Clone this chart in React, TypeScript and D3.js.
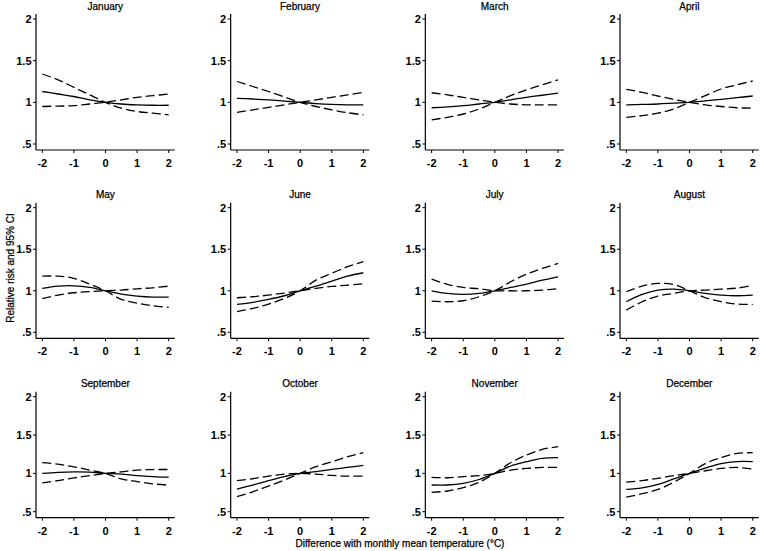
import React from "react";
import * as d3 from "d3";

const months = [
  "January", "February", "March", "April", "May", "June",
  "July", "August", "September", "October", "November", "December",
];

const tempDiff = [-2, -1.5, -1, -0.5, 0, 0.5, 1, 1.5, 2];

const xTicks = [-2, -1, 0, 1, 2];
const yTicks = [0.5, 1, 1.5, 2];
const yTickLabels = [".5", "1", "1.5", "2"];

// relative risk (solid line), by month
const relativeRisk: number[][] = [
  [1.13, 1.10, 1.07, 1.03, 1, 0.98, 0.97, 0.965, 0.965],
  [1.048, 1.04, 1.03, 1.015, 1, 0.985, 0.975, 0.97, 0.97],
  [0.935, 0.945, 0.96, 0.98, 1, 1.03, 1.06, 1.085, 1.11],
  [0.97, 0.975, 0.98, 0.99, 1, 1.018, 1.036, 1.056, 1.076],
  [1.028, 1.056, 1.06, 1.04, 1, 0.96, 0.936, 0.924, 0.924],
  [0.836, 0.86, 0.896, 0.94, 1, 1.056, 1.116, 1.176, 1.217],
  [1.0, 0.968, 0.956, 0.968, 1, 1.04, 1.08, 1.128, 1.168],
  [0.868, 0.956, 1.008, 1.02, 1, 0.968, 0.948, 0.94, 0.948],
  [1.0, 1.013, 1.02, 1.017, 1, 0.99, 0.97, 0.957, 0.95],
  [0.796, 0.848, 0.904, 0.957, 1, 1.022, 1.052, 1.078, 1.104],
  [0.848, 0.848, 0.87, 0.92, 1, 1.096, 1.152, 1.196, 1.204],
  [0.79, 0.81, 0.855, 0.927, 1, 1.068, 1.128, 1.154, 1.154],
];

// first 95% CI bound (dashed), by month
const ciBoundA: number[][] = [
  [1.34, 1.27, 1.18, 1.09, 1, 0.93, 0.89, 0.87, 0.85],
  [1.25, 1.19, 1.13, 1.065, 1, 0.95, 0.91, 0.875, 0.85],
  [1.115, 1.09, 1.06, 1.03, 1, 0.98, 0.97, 0.97, 0.97],
  [1.156, 1.12, 1.076, 1.035, 1, 0.97, 0.95, 0.935, 0.93],
  [1.176, 1.176, 1.15, 1.08, 1, 0.896, 0.85, 0.82, 0.8],
  [0.75, 0.787, 0.84, 0.908, 1, 1.128, 1.21, 1.29, 1.35],
  [1.14, 1.076, 1.04, 1.024, 1, 1.0, 1.0, 1.008, 1.024],
  [0.988, 1.056, 1.088, 1.076, 1, 0.916, 0.868, 0.84, 0.836],
  [1.14, 1.12, 1.085, 1.043, 1, 0.927, 0.893, 0.863, 0.846],
  [0.696, 0.76, 0.835, 0.913, 1, 1.087, 1.152, 1.217, 1.27],
  [0.752, 0.77, 0.813, 0.883, 1, 1.139, 1.239, 1.313, 1.348],
  [0.69, 0.735, 0.79, 0.885, 1, 1.128, 1.205, 1.26, 1.27],
];

// second 95% CI bound (dashed), by month
const ciBoundB: number[][] = [
  [0.95, 0.955, 0.96, 0.98, 1, 1.03, 1.06, 1.08, 1.1],
  [0.88, 0.91, 0.94, 0.97, 1, 1.03, 1.06, 1.09, 1.12],
  [0.79, 0.82, 0.86, 0.92, 1, 1.08, 1.15, 1.21, 1.27],
  [0.82, 0.84, 0.87, 0.92, 1, 1.08, 1.16, 1.21, 1.256],
  [0.904, 0.948, 0.976, 0.99, 1, 1.008, 1.024, 1.036, 1.056],
  [0.916, 0.928, 0.948, 0.972, 1, 1.028, 1.052, 1.068, 1.084],
  [0.876, 0.868, 0.88, 0.928, 1, 1.108, 1.2, 1.269, 1.329],
  [0.767, 0.868, 0.936, 0.968, 1, 1.008, 1.02, 1.032, 1.064],
  [0.876, 0.906, 0.94, 0.97, 1, 1.02, 1.043, 1.05, 1.05],
  [0.904, 0.93, 0.965, 0.99, 1, 0.99, 0.974, 0.965, 0.965],
  [0.948, 0.943, 0.957, 0.97, 1, 1.043, 1.065, 1.078, 1.078],
  [0.885, 0.906, 0.936, 0.97, 1, 1.034, 1.064, 1.077, 1.056],
];

const yAxisTitle = "Relative risk and 95% CI";
const xAxisTitle = "Difference with monthly mean temperature (°C)";

const W = 760;
const H = 551;
const FONT = "'Liberation Sans', Arial, Helvetica, sans-serif";

// layout
const colAxisX0 = 36;
const colStep = 194.67;
const rowTop = [19, 207.7, 396.7]; // y of tick "2"
const rowBottom = [144, 332.3, 511.7]; // y of tick ".5"

function Panel({ idx }: { idx: number }) {
  const col = idx % 4;
  const row = Math.floor(idx / 4);
  const ax = colAxisX0 + col * colStep;
  const x = d3.scaleLinear().domain([-2, 2]).range([ax + 6.3, ax + 132.7]);
  const y = d3.scaleLinear().domain([0.5, 2]).range([rowBottom[row], rowTop[row]]);
  const axisBottom = rowBottom[row] + 6;
  const axisTop = rowTop[row] - 5;
  const axisRight = x(2) + 6;

  const line = d3
    .line<number>()
    .x((_, i) => x(tempDiff[i]))
    .y((d) => y(d))
    .curve(d3.curveCatmullRom.alpha(0.5));

  const cx = (ax + axisRight) / 2;

  return (
    <g>
      <text
        x={cx}
        y={rowTop[row] - 13}
        textAnchor="middle"
        dominantBaseline="central"
        fontSize={10}
        fontFamily={FONT}
        fill="#000"
        stroke="#000"
        strokeWidth={0.25}
      >
        {months[idx]}
      </text>
      {/* y axis */}
      <line x1={ax} x2={ax} y1={axisTop} y2={axisBottom} stroke="#000" strokeWidth={1.2} />
      {yTicks.map((t, i) => (
        <g key={"y" + t}>
          <line x1={ax - 3} x2={ax} y1={y(t)} y2={y(t)} stroke="#000" strokeWidth={1} />
          <text
            x={ax - 4.5}
            y={y(t)}
            textAnchor="end"
            dominantBaseline="central"
            fontSize={11}
            fontWeight="bold"
            fontFamily={FONT}
            fill="#000"
          >
            {yTickLabels[i]}
          </text>
        </g>
      ))}
      {/* x axis */}
      <line x1={ax} x2={axisRight} y1={axisBottom} y2={axisBottom} stroke="#000" strokeWidth={1.2} />
      {xTicks.map((t) => (
        <g key={"x" + t}>
          <line x1={x(t)} x2={x(t)} y1={axisBottom} y2={axisBottom + 3} stroke="#000" strokeWidth={1} />
          <text
            x={x(t)}
            y={axisBottom + 13}
            textAnchor="middle"
            dominantBaseline="central"
            fontSize={11}
            fontWeight="bold"
            fontFamily={FONT}
            fill="#000"
          >
            {t}
          </text>
        </g>
      ))}
      <path d={line(ciBoundA[idx]) ?? ""} fill="none" stroke="#000" strokeWidth={1.3} strokeDasharray="9 4" />
      <path d={line(ciBoundB[idx]) ?? ""} fill="none" stroke="#000" strokeWidth={1.3} strokeDasharray="9 4" />
      <path d={line(relativeRisk[idx]) ?? ""} fill="none" stroke="#000" strokeWidth={1.3} />
    </g>
  );
}

export default function App() {
  return (
    <svg
      width={W}
      height={H}
      viewBox={`0 0 ${W} ${H}`}
      style={{ position: "absolute", left: 0, top: 0, background: "#fff" }}
    >
      <rect x={0} y={0} width={W} height={H} fill="#fff" />
      {months.map((_, i) => (
        <Panel key={i} idx={i} />
      ))}
      <text
        transform={`translate(10, 268) rotate(-90)`}
        textAnchor="middle"
        dominantBaseline="central"
        fontSize={10}
        fontFamily={FONT}
        fill="#000"
        stroke="#000"
        strokeWidth={0.25}
      >
        {yAxisTitle}
      </text>
      <text
        x={400}
        y={543}
        textAnchor="middle"
        dominantBaseline="central"
        fontSize={10}
        fontFamily={FONT}
        fill="#000"
        stroke="#000"
        strokeWidth={0.25}
      >
        {xAxisTitle}
      </text>
    </svg>
  );
}
